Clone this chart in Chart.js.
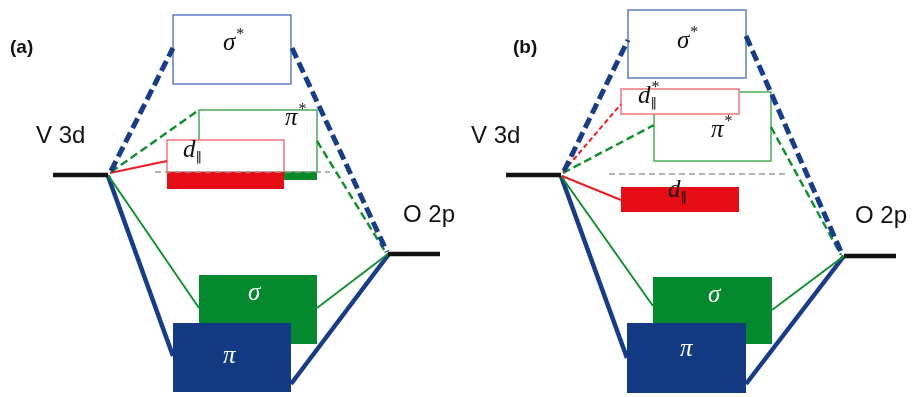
<!DOCTYPE html>
<html>
<head>
<meta charset="utf-8">
<script src="https://cdn.jsdelivr.net/npm/chart.js@4/dist/chart.umd.min.js"></script>
<style>
    html, body { margin: 0; padding: 0; background: #fff; }
    #wrap { width: 912px; height: 397px; }
</style>
</head>
<body>
<div id="wrap"><canvas id="moChart"></canvas></div>
<script>
// ===================================
// MO diagram, V 3d / O 2p, panels (a) and (b)
// x = horizontal position, y = energy (down = lower)
// ===================================

// atomic levels: [x start, x end, energy]
const levels = [
    [53, 108, 175], [388, 440, 254],
    [506, 561, 175], [844, 896, 256]
];

// orbital bands: [kind, x left, x right, top, bottom]  (drawn in this order)
const bands = [
    ['sigmaStar', 173, 291, 15, 84],
    ['piStar', 199, 317, 110, 172],
    ['dPar', 167, 284, 140, 172],
    ['piStarOcc', 199, 317, 172, 180],
    ['dOcc', 167, 284, 172, 189],
    ['sigma', 199, 317, 275, 344],
    ['pi', 173, 291, 323, 392],

    ['sigmaStar', 628, 746, 10, 78],
    ['piStar', 654, 771, 92, 161],
    ['dPar', 621, 739, 89, 114],
    ['dOcc', 621, 739, 187, 212],
    ['sigma', 653, 772, 277, 344],
    ['pi', 627, 746, 323, 393]
];

// connectors: [kind, x1, y1, x2, y2]
const links = [
    ['blueDash', 111, 171, 173, 48],
    ['blueDash', 292, 48, 387, 252],
    ['greenDash', 111, 172, 199, 110],
    ['greenDash', 317, 141, 386, 253],
    ['redSolid', 110, 173, 167, 161],
    ['greenSolid', 108, 175, 199, 308],
    ['blueSolid', 108, 176, 173, 356],
    ['greenSolid', 317, 308, 388, 254],
    ['blueSolid', 291, 384, 389, 254],
    ['grayDash', 155, 172, 330, 172],

    ['blueDash', 564, 171, 628, 40],
    ['blueDash', 746, 36, 842, 254],
    ['redDash', 563, 172, 621, 104],
    ['greenDash', 563, 173, 654, 125],
    ['greenDash', 771, 127, 841, 255],
    ['redSolid', 562, 176, 621, 200],
    ['greenSolid', 561, 176, 653, 306],
    ['blueSolid', 561, 176, 627, 358],
    ['greenSolid', 772, 310, 844, 256],
    ['blueSolid', 746, 384, 844, 256],
    ['grayDash', 609, 174, 786, 174]
];

// plain labels: [text, x left, baseline, kind]
const tags = [
    ['(a)', 10, 53, 'panel'], ['V 3d', 36, 143, 'atom'], ['O 2p', 403, 222, 'atom'],
    ['(b)', 513, 53, 'panel'], ['V 3d', 471, 143, 'atom'], ['O 2p', 855, 223, 'atom']
];

// orbital symbols: [main, sup, sub, x left, baseline, kind]
const symbols = [
    ['σ', '*', '', 223, 50, 'mo'], ['π', '*', '', 285, 125, 'mo'],
    ['d', '', '‖', 183, 157, 'mo'], ['σ', '', '', 248, 300, 'moWhite'],
    ['π', '', '', 223, 363, 'moWhite'],
    ['σ', '*', '', 677, 48, 'mo'], ['d', '*', '‖', 638, 103, 'mo'],
    ['π', '*', '', 711, 137, 'mo'], ['d', '', '‖', 668, 197, 'mo'],
    ['σ', '', '', 708, 302, 'moWhite'], ['π', '', '', 680, 356, 'moWhite']
];

// styles
const bandStyle = {
    sigmaStar: { stroke: '#5c7fc3', fill: '#ffffff', width: 1.5 },
    piStar: { stroke: '#48ad55', fill: '#ffffff', width: 1.5 },
    dPar: { stroke: '#f2767a', fill: '#ffffff', width: 1.5 },
    piStarOcc: { stroke: null, fill: '#0b8a2c', width: 0 },
    dOcc: { stroke: null, fill: '#e60d16', width: 0 },
    sigma: { stroke: null, fill: '#05892e', width: 0 },
    pi: { stroke: null, fill: '#133a82', width: 0 }
};

const linkStyle = {
    blueDash: { color: '#163c8a', width: 5, dash: [11, 5] },
    blueSolid: { color: '#163c8a', width: 4.5, dash: [] },
    greenDash: { color: '#12922f', width: 2.5, dash: [8, 4] },
    greenSolid: { color: '#12922f', width: 2, dash: [] },
    redSolid: { color: '#ee1c24', width: 2, dash: [] },
    redDash: { color: '#ee1c24', width: 2, dash: [5, 3] },
    grayDash: { color: '#9a9a9a', width: 1.5, dash: [6, 4] },
    level: { color: '#111111', width: 4.5, dash: [] }
};

const tagFont = {
    panel: 'bold 19px "Liberation Sans", Arial, sans-serif',
    atom: '24px "Liberation Sans", Arial, sans-serif'
};

// Build datasets (one per segment)
const datasets = [];
levels.forEach(function(lv) {
    datasets.push({ kind: 'level', data: [{ x: lv[0], y: lv[2] }, { x: lv[1], y: lv[2] }] });
});
links.forEach(function(ln) {
    datasets.push({ kind: ln[0], data: [{ x: ln[1], y: ln[2] }, { x: ln[3], y: ln[4] }] });
});
datasets.forEach(function(ds) {
    const st = linkStyle[ds.kind];
    ds.type = 'line';
    ds.borderColor = st.color;
    ds.borderWidth = st.width;
    ds.borderDash = st.dash;
    ds.borderCapStyle = 'butt';
    ds.pointRadius = 0;
    ds.fill = false;
    ds.tension = 0;
});

// Bands behind the connectors
const bandPlugin = {
    id: 'bands',
    beforeDatasetsDraw: function(chart) {
        const ctx = chart.ctx;
        const xs = chart.scales.x, ys = chart.scales.y;
        ctx.save();
        bands.forEach(function(b) {
            const st = bandStyle[b[0]];
            const x1 = xs.getPixelForValue(b[1]), x2 = xs.getPixelForValue(b[2]);
            const y1 = ys.getPixelForValue(b[3]), y2 = ys.getPixelForValue(b[4]);
            ctx.fillStyle = st.fill;
            ctx.fillRect(x1, y1, x2 - x1, y2 - y1);
            if (st.stroke) {
                ctx.strokeStyle = st.stroke;
                ctx.lineWidth = st.width;
                ctx.strokeRect(x1, y1, x2 - x1, y2 - y1);
            }
        });
        ctx.restore();
    }
};

// Labels on top
const labelPlugin = {
    id: 'labels',
    afterDatasetsDraw: function(chart) {
        const ctx = chart.ctx;
        const xs = chart.scales.x, ys = chart.scales.y;
        ctx.save();
        ctx.textBaseline = 'alphabetic';
        ctx.textAlign = 'left';
        tags.forEach(function(t) {
            ctx.font = tagFont[t[3]];
            ctx.fillStyle = '#111';
            ctx.fillText(t[0], xs.getPixelForValue(t[1]), ys.getPixelForValue(t[2]));
        });
        symbols.forEach(function(s) {
            const x = xs.getPixelForValue(s[3]);
            const y = ys.getPixelForValue(s[4]);
            ctx.fillStyle = s[5] === 'moWhite' ? '#ffffff' : '#111111';
            ctx.font = 'italic 25px "Liberation Serif", "DejaVu Serif", serif';
            ctx.fillText(s[0], x, y);
            const w = ctx.measureText(s[0]).width;
            if (s[1]) {
                ctx.font = '16px "Liberation Serif", "DejaVu Serif", serif';
                ctx.fillText(s[1], x + w + 1, y - 11);
            }
            if (s[2]) {
                ctx.font = '13px "DejaVu Sans", sans-serif';
                ctx.fillText(s[2], x + w, y + 4);
            }
        });
        ctx.restore();
    }
};

new Chart(document.getElementById('moChart'), {
    type: 'scatter',
    data: { datasets: datasets },
    options: {
        responsive: true,
        maintainAspectRatio: false,
        animation: false,
        layout: { padding: 0 },
        plugins: {
            legend: { display: false },
            tooltip: { enabled: false }
        },
        scales: {
            x: { type: 'linear', min: 0, max: 912, display: false },
            y: { type: 'linear', min: 0, max: 397, reverse: true, display: false }
        }
    },
    plugins: [bandPlugin, labelPlugin]
});
</script>
</body>
</html>
